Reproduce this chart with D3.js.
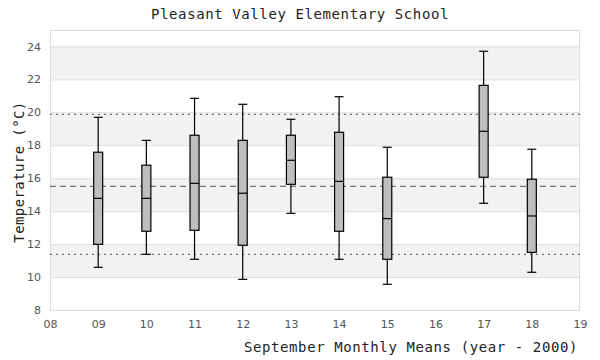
<!DOCTYPE html>
<html><head><meta charset="utf-8">
<script src="https://cdn.jsdelivr.net/npm/d3@7"></script>
<style>body{margin:0;background:#fff}</style>
</head><body>
<svg id="c" width="600" height="360"></svg>
<script>
const years = [9, 10, 11, 12, 13, 14, 15, 17, 18];
const whiskerLow  = [10.59, 11.38, 11.08, 9.86, 13.87, 11.08, 9.56, 14.48, 10.29];
const q1          = [11.99, 12.78, 12.84, 11.93, 15.63, 12.78, 11.08, 16.06, 11.50];
const median      = [14.78, 14.78, 15.69, 15.09, 17.09, 15.81, 13.55, 18.85, 13.71];
const q3          = [17.58, 16.79, 18.61, 18.30, 18.61, 18.79, 16.06, 21.64, 15.94];
const whiskerHigh = [19.70, 18.30, 20.85, 20.49, 19.58, 20.95, 17.88, 23.71, 17.76];
const meanLine = 15.51;
const upperLine = 19.88;
const lowerLine = 11.38;
const xTicks = [8,9,10,11,12,13,14,15,16,17,18,19];
const yTicks = [8,10,12,14,16,18,20,22,24];

const svg = d3.select("#c");
const L = 50, R = 580, T = 30, B = 310;
const x = d3.scaleLinear().domain([8, 19]).range([L, R]);
const y = d3.scaleLinear().domain([8, 25]).range([B, T]);
const mono = "'DejaVu Sans Mono', monospace";

// bands
const bands = [[10,12],[14,16],[18,20],[22,24]];
svg.append("g").selectAll("rect").data(bands).join("rect")
  .attr("x", L).attr("width", R - L)
  .attr("y", d => y(d[1])).attr("height", d => y(d[0]) - y(d[1]))
  .attr("fill", "#f2f2f2");

// grid
svg.append("g").selectAll("line").data(yTicks).join("line")
  .attr("x1", L).attr("x2", R)
  .attr("y1", d => y(d) + 0.5).attr("y2", d => y(d) + 0.5)
  .attr("stroke", "#dedede").attr("stroke-width", 1);

// frame
svg.append("rect").attr("x", L + 0.5).attr("y", T + 0.5)
  .attr("width", R - L - 1).attr("height", B - T)
  .attr("fill", "none").attr("stroke", "#dedede");

// reference lines
function refLine(v, dash) {
  svg.append("line").attr("x1", L).attr("x2", R)
    .attr("y1", y(v)).attr("y2", y(v))
    .attr("stroke", "#555").attr("stroke-width", 1)
    .attr("stroke-dasharray", dash);
}
refLine(upperLine, "2,4");
refLine(lowerLine, "2,4");
refLine(meanLine, "6,4");

// axes
const yAxis = d3.axisLeft(y).tickValues(yTicks).tickSize(0).tickPadding(9);
const gy = svg.append("g").attr("transform", `translate(${L},0)`).call(yAxis);
gy.select(".domain").remove();
gy.selectAll("text").attr("fill", "#555").style("font-family", "'DejaVu Sans', sans-serif").style("font-size", "11px");

const xAxis = d3.axisBottom(x).tickValues(xTicks).tickSize(0).tickPadding(10)
  .tickFormat(d => String(d).padStart(2, "0"));
const gx = svg.append("g").attr("transform", `translate(0,${B})`).call(xAxis);
gx.select(".domain").remove();
gx.selectAll("text").attr("fill", "#555").style("font-family", "'DejaVu Sans', sans-serif").style("font-size", "11px");

// boxes
const data = years.map((yr, i) => ({yr, lo: whiskerLow[i], q1: q1[i], med: median[i], q3: q3[i], hi: whiskerHigh[i]}));
const bw = 9, cw = 9;
const g = svg.append("g").selectAll("g").data(data).join("g");
g.append("line").attr("x1", d => x(d.yr)).attr("x2", d => x(d.yr))
  .attr("y1", d => y(d.hi)).attr("y2", d => y(d.lo))
  .attr("stroke", "#000").attr("stroke-width", 1.2);
g.append("line").attr("x1", d => x(d.yr) - cw/2).attr("x2", d => x(d.yr) + cw/2)
  .attr("y1", d => y(d.hi)).attr("y2", d => y(d.hi)).attr("stroke", "#000").attr("stroke-width", 1.2);
g.append("line").attr("x1", d => x(d.yr) - cw/2).attr("x2", d => x(d.yr) + cw/2)
  .attr("y1", d => y(d.lo)).attr("y2", d => y(d.lo)).attr("stroke", "#000").attr("stroke-width", 1.2);
g.append("rect").attr("x", d => x(d.yr) - bw/2).attr("width", bw)
  .attr("y", d => y(d.q3)).attr("height", d => y(d.q1) - y(d.q3))
  .attr("fill", "#bebebe").attr("stroke", "#000").attr("stroke-width", 1.2);
g.append("line").attr("x1", d => x(d.yr) - bw/2).attr("x2", d => x(d.yr) + bw/2)
  .attr("y1", d => y(d.med)).attr("y2", d => y(d.med)).attr("stroke", "#000").attr("stroke-width", 1.2);

// titles
svg.append("text").attr("x", 300).attr("y", 19).attr("text-anchor", "middle")
  .style("font-family", mono).style("font-size", "14px").style("letter-spacing", "0.6px").attr("fill", "#222")
  .text("Pleasant Valley Elementary School");
svg.append("text").attr("x", 578).attr("y", 352).attr("text-anchor", "end")
  .style("font-family", mono).style("font-size", "14px").style("letter-spacing", "0.6px").attr("fill", "#222")
  .text("September Monthly Means (year - 2000)");
svg.append("text").attr("transform", "translate(24,172) rotate(-90)").attr("text-anchor", "middle")
  .style("font-family", mono).style("font-size", "14px").style("letter-spacing", "0.4px").attr("fill", "#222")
  .text("Temperature (°C)");
</script>
</body></html>
